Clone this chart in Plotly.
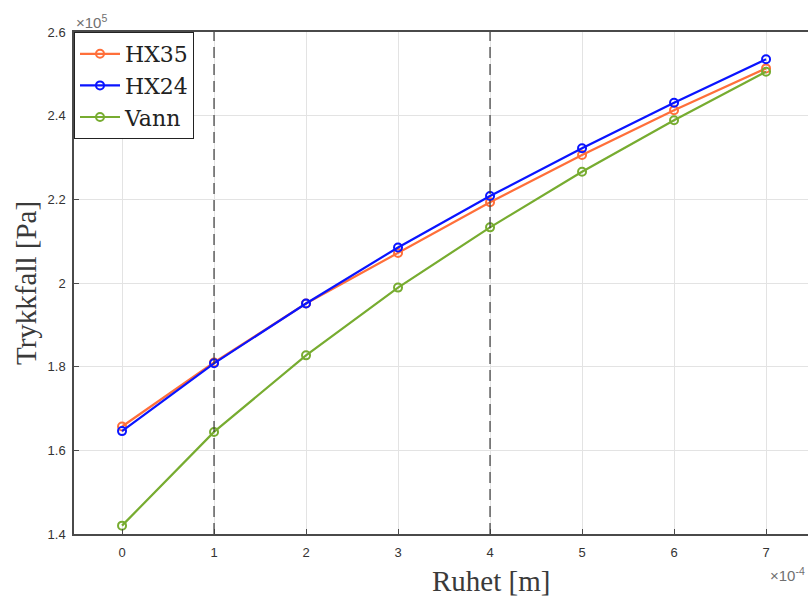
import plotly.graph_objects as go

# Surface roughness [m]
ruhet = [0e-4, 1e-4, 2e-4, 3e-4, 4e-4, 5e-4, 6e-4, 7e-4]

# Pressure drop [Pa] per fluid
hx35 = [1.657e5, 1.810e5, 1.951e5, 2.072e5, 2.193e5, 2.306e5, 2.413e5, 2.513e5]
hx24 = [1.646e5, 1.808e5, 1.951e5, 2.085e5, 2.208e5, 2.322e5, 2.431e5, 2.535e5]
vann = [1.420e5, 1.644e5, 1.827e5, 1.989e5, 2.133e5, 2.266e5, 2.389e5, 2.505e5]

# Reference roughness values marked with dashed lines
marker_lines = [1e-4, 4e-4]

x_tickvals = [i * 1e-4 for i in range(8)]
x_ticktext = [str(i) for i in range(8)]
y_tickvals = [1.4e5, 1.6e5, 1.8e5, 2.0e5, 2.2e5, 2.4e5, 2.6e5]
y_ticktext = ["1.4", "1.6", "1.8", "2", "2.2", "2.4", "2.6"]

series = [
    ("HX35", hx35, "#FF6F3A"),
    ("HX24", hx24, "#0A14FF"),
    ("Vann", vann, "#77AC30"),
]

fig = go.Figure()
for name, vals, color in series:
    fig.add_trace(go.Scatter(
        x=ruhet, y=vals, name=name, mode="lines+markers",
        line=dict(color=color, width=2.2),
        marker=dict(symbol="circle-open", size=8, color=color,
                    line=dict(width=2, color=color)),
    ))

for xv in marker_lines:
    fig.add_shape(type="line", xref="x", yref="paper", x0=xv, x1=xv, y0=0, y1=1,
                  line=dict(color="#3a3a3a", width=1.2, dash="11px,6px"), layer="above")

axis_color = "#4a4a4a"
tick_font = dict(family="Liberation Sans, Arial", size=13, color="#333333")
label_font = dict(family="Liberation Serif, DejaVu Serif", size=29, color="#3a3a3a")
exp_font = dict(family="Liberation Sans, Arial", size=15, color="#707070")

fig.update_layout(
    width=808, height=598,
    margin=dict(l=74, r=0, t=32, b=64),
    paper_bgcolor="white", plot_bgcolor="white",
    showlegend=True,
    legend=dict(
        x=0, y=1, xanchor="left", yanchor="top",
        bgcolor="white", bordercolor="#222222", borderwidth=1,
        font=dict(family="DejaVu Serif, Liberation Serif", size=22, color="#222222"),
        itemwidth=40, tracegroupgap=0,
    ),
    xaxis=dict(
        range=[-0.522e-4, 7.456e-4],
        tickvals=x_tickvals, ticktext=x_ticktext,
        tickfont=tick_font, ticklabelstandoff=6,
        ticks="inside", ticklen=5, tickcolor=axis_color,
        showline=True, linecolor=axis_color, linewidth=1.5, mirror=True,
        showgrid=True, gridcolor="#e3e3e3", gridwidth=1,
        zeroline=False,
    ),
    yaxis=dict(
        range=[1.4e5, 2.6e5],
        tickvals=y_tickvals, ticktext=y_ticktext,
        tickfont=tick_font, ticklabelstandoff=4,
        ticks="inside", ticklen=5, tickcolor=axis_color,
        showline=True, linecolor=axis_color, linewidth=1.5, mirror=False,
        showgrid=True, gridcolor="#e3e3e3", gridwidth=1,
        zeroline=False,
    ),
    annotations=[
        dict(text="Ruhet [m]", xref="paper", yref="paper", x=0.568, y=0,
             xanchor="center", yanchor="middle", yshift=-47, showarrow=False,
             font=label_font),
        dict(text="Trykkfall [Pa]", xref="paper", yref="paper", x=-0.0654, y=0.5,
             xanchor="center", yanchor="middle", textangle=-90, showarrow=False,
             font=label_font),
        dict(text="×10<sup>5</sup>", xref="paper", yref="paper", x=0, y=1,
             xanchor="left", yanchor="bottom", yshift=-1, showarrow=False,
             font=exp_font),
        dict(text="×10<sup>-4</sup>", xref="paper", yref="paper", x=1, y=0,
             xanchor="right", yanchor="top", yshift=-29, xshift=-1, showarrow=False,
             font=exp_font),
    ],
)

fig.write_html("out.html")
